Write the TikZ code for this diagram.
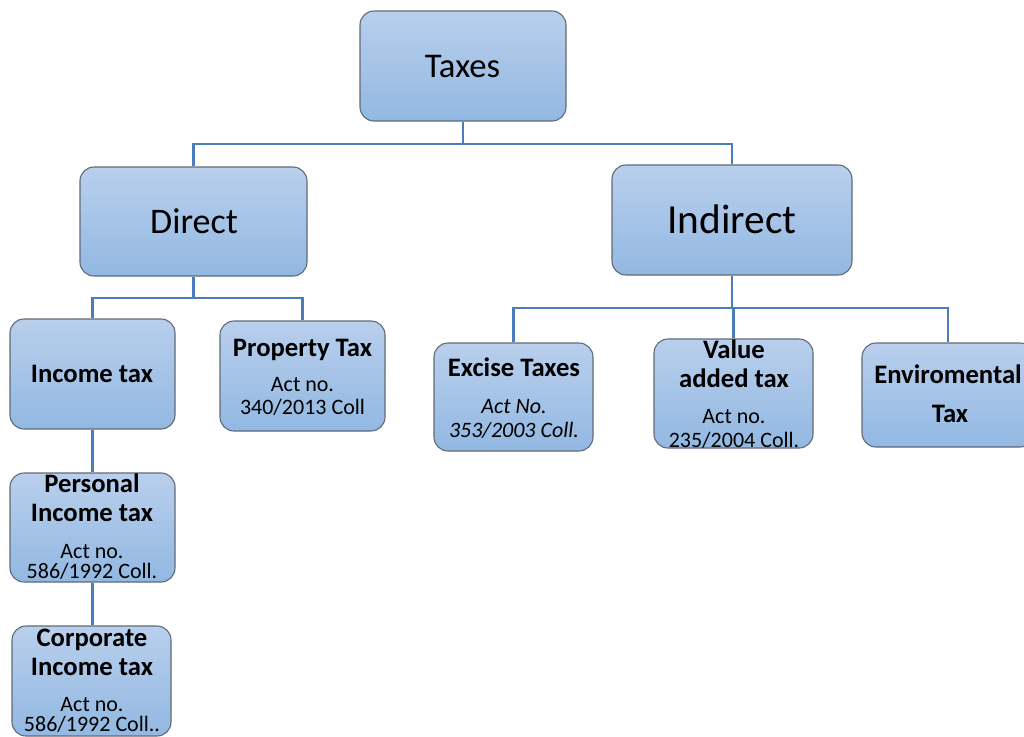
\documentclass[tikz,border=0pt]{standalone}
\usepackage{fontspec}
\setmainfont{Carlito}
\newcommand\unitpx{0.75pt}
\definecolor{boxtop}{RGB}{185,207,236}
\definecolor{boxbot}{RGB}{146,184,226}
\definecolor{boxline}{RGB}{96,106,120}
\definecolor{conncol}{RGB}{74,126,187}
\tikzset{
  box/.style={draw=boxline, line width=1.1*\unitpx, rounded corners=14*\unitpx,
    top color=boxtop, bottom color=boxbot, inner sep=0pt},
  conn/.style={draw=conncol, line width=2.5*\unitpx},
  txt/.style={anchor=base, inner sep=0pt, text=black},
  big/.style={txt, font=\fontsize{26}{30}\selectfont},
  huge/.style={txt, font=\fontsize{31}{36}\selectfont},
  head/.style={txt, font=\fontsize{20}{24}\selectfont\bfseries},
  act/.style={txt, font=\fontsize{16.5}{20}\selectfont},
  acti/.style={txt, font=\fontsize{16.5}{20}\selectfont\itshape},
}
\begin{document}
\begin{tikzpicture}[x=\unitpx, y=-\unitpx]
\useasboundingbox (0,0) rectangle (1024,736);
% boxes
\node[box, minimum width=206*\unitpx, minimum height=110*\unitpx] (taxes) at (463,66) {};
\node[box, minimum width=227*\unitpx, minimum height=109*\unitpx] (direct) at (193.5,221.5) {};
\node[box, minimum width=240*\unitpx, minimum height=110*\unitpx] (indirect) at (732,220) {};
\node[box, minimum width=165*\unitpx, minimum height=110*\unitpx] (income) at (92.5,374) {};
\node[box, minimum width=165*\unitpx, minimum height=110*\unitpx] (property) at (302.5,376) {};
\node[box, minimum width=159*\unitpx, minimum height=108*\unitpx] (excise) at (513.5,397) {};
\node[box, minimum width=159*\unitpx, minimum height=109*\unitpx] (vat) at (733.5,393.5) {};
\node[box, minimum width=172*\unitpx, minimum height=104*\unitpx] (enviro) at (948,395) {};
\node[box, minimum width=165*\unitpx, minimum height=109*\unitpx] (personal) at (92.5,527.5) {};
\node[box, minimum width=159*\unitpx, minimum height=110*\unitpx] (corporate) at (91.5,681) {};
% connectors
\coordinate (tj) at (463,144);
\coordinate (dj) at (193.5,298);
\coordinate (ij) at (732,308);
\draw[conn] (taxes.south) -- (tj) -| (direct.north);
\draw[conn] (tj) -| (indirect.north);
\draw[conn] (direct.south) -- (dj) -| (income.north);
\draw[conn] (dj) -| (property.north);
\draw[conn] (indirect.south) -- (ij) -| (excise.north);
\draw[conn] (ij) -| (vat.north);
\draw[conn] (ij) -| (enviro.north);
\draw[conn] (income.south) -- (personal.north);
\draw[conn] (personal.south) -- (personal.south |- corporate.north);
% texts
\node[big] (t1) at (462.5,77) {Taxes};
\node[big, font=\fontsize{27}{32}\selectfont] (t2) at (194,233) {Direct};
\node[huge] (t3) at (732,233) {Indirect};
\node[head] (t4) at (92,382) {Income tax};
\node[head] (t5a) at (302.5,356) {Property Tax};
\node[act] (t5b) at (302.5,391) {Act no.};
\node[act] (t5c) at (302.5,414) {340/2013 Coll};
\node[head] (t6a) at (514,376) {Excise Taxes};
\node[acti] (t6b) at (514,413) {Act No.};
\node[acti] (t6c) at (514,437) {353/2003 Coll.};
\node[head] (t7a) at (734,358) {Value};
\node[head] (t7b) at (734,387) {added tax};
\node[act] (t7c) at (734,423) {Act no.};
\node[act] (t7d) at (734,447) {235/2004 Coll.};
\node[head] (t8a) at (948,383) {Enviromental};
\node[head] (t8b) at (950,422) {Tax};
\node[head] (t9a) at (92,492) {Personal};
\node[head] (t9b) at (92,521) {Income tax};
\node[act] (t9c) at (92,558) {Act no.};
\node[act] (t9d) at (92,578) {586/1992 Coll.};
\node[head] (t10a) at (92,646) {Corporate};
\node[head] (t10b) at (92,675) {Income tax};
\node[act] (t10c) at (92,711) {Act no.};
\node[act] (t10d) at (92,731) {586/1992 Coll..};
\end{tikzpicture}
\end{document}
